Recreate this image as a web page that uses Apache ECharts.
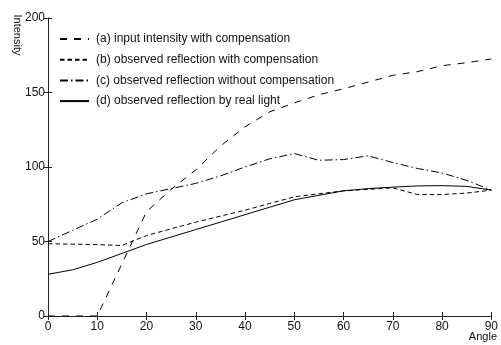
<!DOCTYPE html>
<html><head><meta charset="utf-8">
<script src="https://cdn.jsdelivr.net/npm/echarts@6/dist/echarts.min.js"></script>
<style>html,body{margin:0;padding:0;background:#fff}#c{width:501px;height:345px}</style>
</head><body><div id="c"></div>
<script>
const angles = [0,5,10,15,20,25,30,35,40,45,50,55,60,65,70,75,80,85,90];
const seriesNames = [
  '(a) input intensity with compensation',
  '(b) observed reflection with compensation',
  '(c) observed reflection without compensation',
  '(d) observed reflection by real light'
];
const inputComp   = [0,0,0,35,70,85,98,114,127,137,143,148.5,152.5,157,161.5,164,168,170,172.5];
const observedComp = [48.5,48.2,47.9,47.3,54,58.5,63,67,71,75.5,80,82,84,85,86,81.5,81.5,82.5,84.5];
const observedNoComp = [50,57.5,65,76,82,85.5,89,94,100,105.5,109,104.5,105,107.5,103,99,96,91,84.5];
const realLight = [28,31,36,42,48,53,58,63,68,73,78,81,84,85.5,86.5,87.3,87.5,87,84.5];
const xTicks = {min:0, max:90, interval:10};
const yTicks = {min:0, max:200, interval:50};

const pair = arr => angles.map((a,i)=>[a,arr[i]]);
const dashes = [[7,7],[4.5,3],[8,3,1.5,3],'solid'];
const values = [inputComp, observedComp, observedNoComp, realLight];
const font = 'Liberation Sans, Arial, Helvetica, sans-serif';
const chart = echarts.init(document.getElementById('c'));
const axBase = {
  axisLine:{show:true, lineStyle:{color:'#222', width:1}},
  axisTick:{show:true, inside:true, length:4, lineStyle:{color:'#222'}},
  splitLine:{show:false}
};
chart.setOption({
  animation:false,
  backgroundColor:'#fff',
  grid:{left:48, right:9, top:18, bottom:29, show:false},
  legend:{
    orient:'vertical', left:54, top:28, itemWidth:29, itemHeight:14, itemGap:8.7,
    itemStyle:{color:'rgba(0,0,0,0)', borderWidth:0, opacity:0},
    textStyle:{fontFamily:font, fontSize:12, color:'#111', padding:[0,0,0,2]},
    data:seriesNames
  },
  xAxis:[
    Object.assign({type:'value', min:xTicks.min, max:xTicks.max, interval:xTicks.interval, position:'bottom',
      axisLabel:{fontFamily:font, fontSize:12, color:'#111', margin:5}}, axBase),
    Object.assign({type:'value', min:xTicks.min, max:xTicks.max, interval:xTicks.interval, position:'top',
      axisLabel:{show:false}}, axBase)
  ],
  yAxis:[
    Object.assign({type:'value', min:yTicks.min, max:yTicks.max, interval:yTicks.interval, position:'left',
      axisLabel:{fontFamily:font, fontSize:12, color:'#111', margin:3}}, axBase),
    Object.assign({type:'value', min:yTicks.min, max:yTicks.max, interval:yTicks.interval, position:'right',
      axisLabel:{show:false}}, axBase)
  ],
  graphic:[
    {type:'text', x:17, y:35, rotation:-Math.PI/2,
      style:{text:'Intensity', font:'11px '+font, fill:'#111', textAlign:'center', textVerticalAlign:'middle'}},
    {type:'text', x:497, y:337, style:{text:'Angle', font:'11px '+font, fill:'#111', textAlign:'right', textVerticalAlign:'middle'}}
  ],
  series: seriesNames.map((n,i)=>({
    name:n, type:'line', data:pair(values[i]), showSymbol:false, symbol:'none',
    xAxisIndex:0, yAxisIndex:0,
    lineStyle:{color:'#000', width:1, type:dashes[i]},
    itemStyle:{color:'#000'}
  }))
});
</script></body></html>
